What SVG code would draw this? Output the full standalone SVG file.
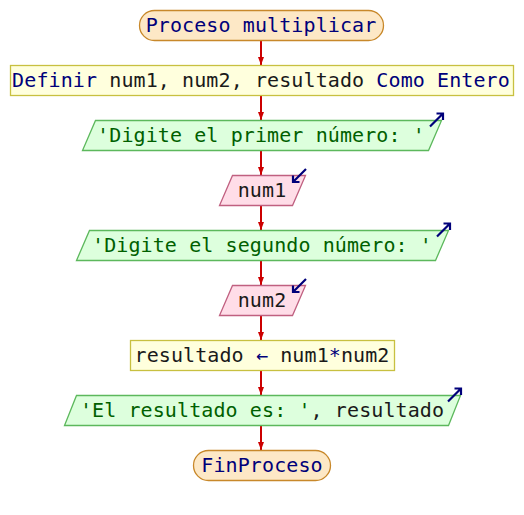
<svg xmlns="http://www.w3.org/2000/svg" width="524" height="515" viewBox="0 0 524 515">
<style>
text{font-family:"DejaVu Sans Mono","Liberation Mono",monospace;font-size:20px;letter-spacing:0.1px;text-anchor:middle}
.term{fill:#fde8c6;stroke:#c8882a;stroke-width:1.3}
.proc{fill:#ffffdd;stroke:#c8c040;stroke-width:1.3}
.out{fill:#ddffdd;stroke:#5cb85c;stroke-width:1.3}
.in{fill:#ffdde8;stroke:#c06080;stroke-width:1.3}
.kw{fill:#00007a}
.id{fill:#1a1a1a}
.str{fill:#006000}
.icon{fill:none;stroke:#00007a;stroke-width:2.2}
.conn{stroke:#cc0000;stroke-width:2}
.head{fill:#cc0000}
</style>
<defs>
<marker id="ah" viewBox="0 0 8 6" refX="8" refY="3" markerWidth="8" markerHeight="6" markerUnits="userSpaceOnUse" orient="auto">
<path class="head" d="M0,0L8,3L0,6Z"/>
</marker>
</defs>
<g id="connectors">
<line class="conn" x1="261" y1="41" x2="261" y2="65" marker-end="url(#ah)"/>
<line class="conn" x1="261" y1="96" x2="261" y2="120" marker-end="url(#ah)"/>
<line class="conn" x1="261" y1="151" x2="261" y2="175" marker-end="url(#ah)"/>
<line class="conn" x1="261" y1="206" x2="261" y2="230" marker-end="url(#ah)"/>
<line class="conn" x1="261" y1="261" x2="261" y2="285" marker-end="url(#ah)"/>
<line class="conn" x1="261" y1="316" x2="261" y2="340" marker-end="url(#ah)"/>
<line class="conn" x1="261" y1="371" x2="261" y2="395" marker-end="url(#ah)"/>
<line class="conn" x1="261" y1="426" x2="261" y2="450" marker-end="url(#ah)"/>
</g>
<g id="start">
<rect class="term" x="139.5" y="10.5" width="244" height="30" rx="15"/>
<text x="261" y="32" class="kw">Proceso multiplicar</text>
</g>
<g id="definir">
<rect class="proc" x="10.5" y="65.5" width="503" height="30"/>
<text x="261" y="87"><tspan class="kw">Definir</tspan><tspan class="id"> num1, num2, resultado </tspan><tspan class="kw">Como Entero</tspan></text>
</g>
<g id="out1">
<polygon class="out" points="95.5,120.5 441.5,120.5 428.5,150.5 82.5,150.5"/>
<text x="261" y="142" class="str">'Digite el primer número: '</text>
<path class="icon" d="M430,126.5L443,113.5M436.5,113.5H443V120"/>
</g>
<g id="in1">
<polygon class="in" points="232.5,175.5 305.5,175.5 292.5,205.5 219.5,205.5"/>
<text x="262" y="197" class="id">num1</text>
<path class="icon" d="M306,169L293,182M293,175.5V182H299.5"/>
</g>
<g id="out2">
<polygon class="out" points="89.5,230.5 448.5,230.5 435.5,260.5 76.5,260.5"/>
<text x="262" y="252" class="str">'Digite el segundo número: '</text>
<path class="icon" d="M437,236.5L450,223.5M443.5,223.5H450V230"/>
</g>
<g id="in2">
<polygon class="in" points="232.5,285.5 305.5,285.5 292.5,315.5 219.5,315.5"/>
<text x="262" y="307" class="id">num2</text>
<path class="icon" d="M306,279L293,292M293,285.5V292H299.5"/>
</g>
<g id="asignar">
<rect class="proc" x="130.5" y="340.5" width="264" height="30"/>
<text x="262" y="362"><tspan class="id">resultado </tspan><tspan class="kw">←</tspan><tspan class="id"> num1</tspan><tspan class="kw">*</tspan><tspan class="id">num2</tspan></text>
</g>
<g id="out3">
<polygon class="out" points="76.5,395.5 460.5,395.5 448.5,425.5 64.5,425.5"/>
<text x="262" y="417"><tspan class="str">'El resultado es: '</tspan><tspan class="id">, resultado</tspan></text>
<path class="icon" d="M448,401.5L461,388.5M454.5,388.5H461V395"/>
</g>
<g id="end">
<rect class="term" x="193.5" y="450.5" width="137" height="30" rx="15"/>
<text x="262" y="472" class="kw">FinProceso</text>
</g>
</svg>
